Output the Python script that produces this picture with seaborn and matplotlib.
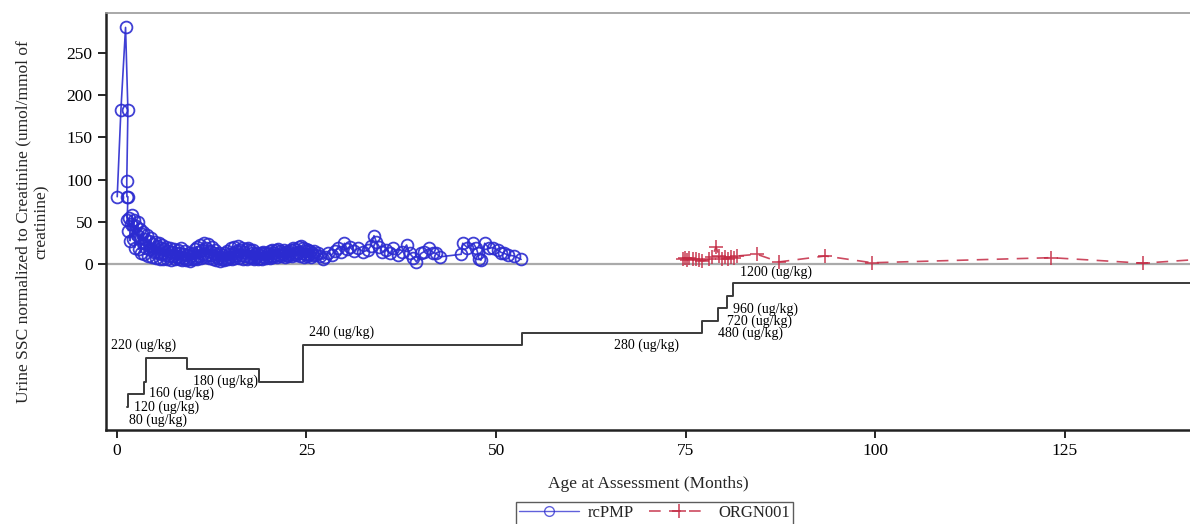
import numpy as np
import pandas as pd
import matplotlib
matplotlib.use("Agg")
import matplotlib.pyplot as plt
from matplotlib.lines import Line2D
import seaborn as sns

# rcPMP urine SSC (months, umol/mmol creatinine)
rcpmp_month = [0.04, 0.53, 1.14, 1.45, 1.30, 1.32, 1.45, 1.35,
               1.500, 1.625, 1.750, 1.875,
               2.000, 2.125, 2.250, 2.375, 2.500, 2.625, 2.750, 2.875,
               3.000, 3.125, 3.250, 3.375, 3.500, 3.625, 3.750, 3.875,
               4.000, 4.125, 4.250, 4.375, 4.500, 4.625, 4.750, 4.875,
               5.000, 5.125, 5.250, 5.375, 5.500, 5.625, 5.750, 5.875,
               6.000, 6.125, 6.250, 6.375, 6.500, 6.625, 6.750, 6.875,
               7.000, 7.125, 7.250, 7.375, 7.500, 7.625, 7.750, 7.875,
               8.000, 8.125, 8.250, 8.375, 8.500, 8.625, 8.750, 8.875,
               9.000, 9.125, 9.250, 9.375, 9.500, 9.625, 9.750, 9.875,
               10.000, 10.125, 10.250, 10.375, 10.500, 10.625, 10.750, 10.875,
               11.000, 11.125, 11.250, 11.375, 11.500, 11.625, 11.750, 11.875,
               12.000, 12.125, 12.250, 12.375, 12.500, 12.625, 12.750, 12.875,
               13.000, 13.125, 13.250, 13.375, 13.500, 13.625, 13.750, 13.875,
               14.000, 14.125, 14.250, 14.375, 14.500, 14.625, 14.750, 14.875,
               15.000, 15.125, 15.250, 15.375, 15.500, 15.625, 15.750, 15.875,
               16.000, 16.125, 16.250, 16.375, 16.500, 16.625, 16.750, 16.875,
               17.000, 17.125, 17.250, 17.375, 17.500, 17.625, 17.750, 17.875,
               18.000, 18.125, 18.250, 18.375, 18.500, 18.625, 18.750, 18.875,
               19.000, 19.125, 19.250, 19.375, 19.500, 19.625, 19.750, 19.875,
               20.000, 20.125, 20.250, 20.375, 20.500, 20.625, 20.750, 20.875,
               21.000, 21.125, 21.250, 21.375, 21.500, 21.625, 21.750, 21.875,
               22.000, 22.125, 22.250, 22.375, 22.500, 22.625, 22.750, 22.875,
               23.000, 23.125, 23.250, 23.375, 23.500, 23.625, 23.750, 23.875,
               24.000, 24.125, 24.250, 24.375, 24.500, 24.625, 24.750, 24.875,
               25.000, 25.125, 25.250, 25.375, 25.500, 25.625, 25.750, 25.875,
               26.00, 26.25, 26.50, 26.80, 27.20, 27.50, 27.80, 28.30, 28.70, 29.20, 29.60,
               30.00, 30.40, 30.70, 31.20, 31.80, 32.50, 33.10, 33.50, 33.90, 34.20, 34.60,
               35.00, 35.50, 36.00, 36.40, 37.10, 37.60, 38.20, 38.60, 39.10, 39.50, 40.10,
               40.50, 41.20, 41.70, 42.10, 42.60, 45.40, 45.60, 46.20, 47.00, 47.40, 47.60,
               47.70, 48.00, 48.50, 49.10, 49.60, 50.20, 50.70, 51.10, 51.60, 52.40, 53.30]
rcpmp_value = [80, 183, 280, 182, 98, 80, 80, 52,
               40, 55, 28, 48,
               58, 30, 52, 20, 46, 35, 50, 18,
               42, 14, 36, 25, 38, 12, 30, 20,
               35, 10, 28, 18, 31, 9, 24, 15,
               27, 8, 22, 14, 25, 7, 19, 12,
               23, 6, 18, 11, 21, 6, 16, 10,
               20, 5, 15, 10, 18, 6, 14, 9,
               17, 6, 13, 9, 19, 5, 12, 8,
               16, 5, 11, 7, 14, 4, 10, 6,
               13, 6, 18, 9, 21, 7, 15, 10,
               23, 8, 17, 12, 25, 9, 19, 11,
               24, 8, 16, 11, 21, 7, 14, 10,
               17, 5, 12, 8, 13, 4, 9, 6,
               11, 5, 14, 7, 16, 6, 12, 9,
               19, 7, 14, 10, 21, 8, 16, 11,
               22, 8, 17, 11, 19, 7, 15, 10,
               18, 7, 20, 9, 17, 8, 13, 10,
               17, 7, 12, 9, 14, 6, 11, 8,
               13, 7, 15, 9, 14, 8, 12, 10,
               14, 8, 16, 10, 17, 9, 13, 11,
               17, 9, 18, 11, 16, 10, 14, 12,
               17, 9, 15, 11, 16, 10, 13, 12,
               17, 10, 19, 12, 18, 11, 15, 13,
               21, 10, 22, 13, 20, 9, 16, 12,
               18, 10, 17, 12, 16, 9, 14, 11,
               16, 11, 14, 10, 6, 9, 13, 11, 16, 19, 15,
               25, 18, 21, 16, 19, 15, 17, 22, 34, 27, 21,
               15, 17, 13, 19, 11, 15, 23, 13, 8, 3, 13,
               15, 19, 14, 13, 9, 12, 25, 20, 25, 19, 13,
               7, 5, 25, 19, 20, 17, 14, 13, 11, 10, 6]

# ORGN001 urine SSC
orgn_month = [74.6, 74.9, 75.2, 75.5, 75.9, 76.3, 76.8, 77.2, 78.1, 78.5, 79.0,
              79.4, 79.8, 80.2, 80.6, 81.0, 81.4, 81.8, 84.4, 87.3, 93.4,
              99.6, 123.2, 135.3, 146.0]
orgn_value = [6, 8, 5, 8, 6, 7, 5, 4, 6, 9, 21,
              10, 6, 9, 6, 9, 8, 10, 12, 3, 10,
              2, 8, 1.5, 8]

# dose regimen, drawn as steps below zero
dose_month = [1.35, 1.45, 3.60, 3.85, 9.30, 18.70, 24.60, 53.40, 77.20, 79.20, 80.40, 81.20, 145.0]
dose_level = [-168, -153.5, -139, -110, -124, -139, -95.5, -81, -66.5, -52, -37.5, -22.5, -22.5]
dose_text = ["80 (ug/kg)", "120 (ug/kg)", "160 (ug/kg)", "220 (ug/kg)", "180 (ug/kg)",
             "240 (ug/kg)", "280 (ug/kg)", "480 (ug/kg)", "720 (ug/kg)", "960 (ug/kg)",
             "1200 (ug/kg)"]
label_pos = [(1.6, -184), (2.2, -168.7), (4.2, -152.5), (-0.8, -95.6), (10.0, -138.3),
             (25.3, -80.4), (65.6, -95.4), (79.2, -81.6), (80.4, -67), (81.2, -52.8),
             (82.1, -8.7)]

blue = "#2B2BD0"
red = "#C42A44"

sns.set_style("white")
plt.rcParams["font.family"] = ["Liberation Serif", "DejaVu Serif"]

fig = plt.figure(figsize=(11.9, 5.24), dpi=100)
ax = fig.add_axes([0.089, 0.179, 0.911, 0.796])

ax.axhline(0, color="#AAAAAA", lw=1.6, zorder=1)

sns.lineplot(x=dose_month, y=dose_level, drawstyle="steps-post", color="#3A3A3A",
             lw=1.4, estimator=None, sort=False, ax=ax, legend=False)

sns.lineplot(x=rcpmp_month, y=rcpmp_value, sort=False, estimator=None, color=blue,
             lw=1.2, alpha=0.9, marker="o", markersize=8.5, markerfacecolor="none",
             markeredgecolor=blue, markeredgewidth=1.3, ax=ax, legend=False)

sns.lineplot(x=orgn_month, y=orgn_value, sort=False, estimator=None, color=red,
             lw=1.2, alpha=0.85, dashes=False, ax=ax, legend=False)
ax.lines[-1].set_linestyle((0, (7, 5)))
ax.plot(orgn_month, orgn_value, ls="none", marker="+", markersize=10,
        markeredgewidth=1.2, color=red, alpha=0.85)

for txt, (xm, yv) in zip(dose_text, label_pos):
    ax.text(xm, yv, txt, fontsize=10, ha="left", va="center", color="black")

ax.set_xlim(-1.45, 141.5)
ax.set_ylim(-195.8, 296.9)
ax.set_xticks([0, 25, 50, 75, 100, 125])
ax.set_yticks([0, 50, 100, 150, 200, 250])
ax.tick_params(axis="both", which="both", direction="out", length=6, width=1.2,
               labelsize=12.5, colors="black", left=True, bottom=True)
ax.set_xlabel("Age at Assessment (Months)", fontsize=12.5, labelpad=12)
ax.set_ylabel("Urine SSC normalized to Creatinine (umol/mmol of\ncreatinine)",
              fontsize=12.5, multialignment="center")
ax.yaxis.set_label_coords(-0.052, 0.5)

for side in ["left", "bottom"]:
    ax.spines[side].set_color("#222222")
    ax.spines[side].set_linewidth(1.8)
ax.spines["top"].set_color("#999999")
ax.spines["top"].set_linewidth(1.2)
ax.spines["right"].set_visible(False)

handles = [
    Line2D([], [], color=blue, lw=1.0, marker="o", markersize=7, markerfacecolor="none",
           markeredgecolor=blue, alpha=0.75, label="rcPMP"),
    Line2D([], [], color=red, lw=1.2, ls=(0, (7, 5)), marker="+", markersize=10,
           markeredgewidth=1.2, alpha=0.85, label="ORGN001"),
]
fig.legend(handles=handles, loc="upper center", bbox_to_anchor=(0.550, 0.042), ncol=2,
           fontsize=12, frameon=True, fancybox=False, edgecolor="#333333",
           handlelength=3.6, handletextpad=0.55, columnspacing=0.9, borderpad=0.2,
           borderaxespad=0)

fig.savefig("out.png", dpi=100)
